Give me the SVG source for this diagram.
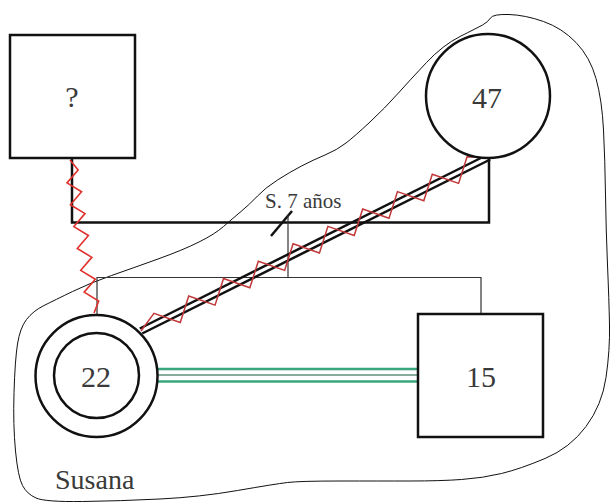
<svg xmlns="http://www.w3.org/2000/svg" width="613" height="502" viewBox="0 0 613 502">
  <style>
    .shape { fill: #ffffff; stroke: #111111; stroke-width: 2.5; }
    .thick { fill: none; stroke: #111111; stroke-width: 2.5; }
    .thin { fill: none; stroke: #333333; stroke-width: 1.2; }
    .conflict { fill: none; stroke: #e0302c; stroke-width: 1.6; }
    .conflict2 { fill: none; stroke: #c23838; stroke-width: 1.5; }
    .close { fill: none; stroke: #3aa57c; stroke-width: 2.6; }
    .close-mid { fill: none; stroke: #5f8f7c; stroke-width: 1.4; }
    text { font-family: 'Liberation Serif', 'Times New Roman', 'DejaVu Serif', serif; fill: #3a3a3a; }
    .age { font-size: 30px; text-anchor: middle; }
  </style>

  <!-- household boundary -->
  <g id="household">
    <path fill="none" stroke="#111111" stroke-width="1" d="M 490.5,18 Q 493,14 509,14.5 Q 525,15 543.5,21.5 Q 562,28 576,42.5 Q 590,57 596,78.5 Q 602,100 603.5,130 Q 605,160 605.5,195 Q 606,230 607.5,265 Q 609,300 609.5,325 Q 610,350 606,377.5 Q 602,405 586,426.5 Q 570,448 545,458.5 Q 520,469 501.5,473.5 Q 483,478 461.5,479.5 Q 440,481 410,481 Q 380,481 340,481 Q 300,481 287.5,482.5 Q 275,484 237.5,490.5 Q 200,497 160,499 Q 120,501 82.5,501.5 Q 45,502 36,498 Q 27,494 22.5,485.5 Q 18,477 15.5,451 Q 13,425 14,392.5 Q 15,360 17.5,344 Q 20,328 26.5,319.5 Q 33,311 44,305.5 Q 55,300 72.5,291.5 Q 90,283 111.5,275.5 Q 133,268 158,259 Q 183,250 199,242 Q 215,234 223.5,226.5 Q 232,219 241,211.5 Q 250,204 257.5,196 Q 265,188 277.5,180 Q 290,172 301.5,166 Q 313,160 325,155 Q 337,150 346,143 Q 355,136 370,122 Q 385,108 397.5,94 Q 410,80 426.5,62.5 Q 443,45 460,36.5 Q 477,28 482.5,25 Q 488,22 490.5,18 Z"/>
    <text x="55" y="489" font-size="28" font-family="'Liberation Serif', serif">Susana</text>
  </g>

  <!-- connectors -->
  <g id="connectors">
    <!-- marriage line with separation mark -->
    <polyline class="thick" points="72,158 72,222.5 489,222.5 489,157"/>
    <line class="thick" x1="271" y1="236" x2="292" y2="211"/>
    <text x="265" y="208" font-size="21" font-family="'Liberation Serif', serif">S. 7 años</text>
    <!-- children line -->
    <polyline class="thin" points="288,215 288,277.5"/>
    <polyline class="thin" points="97,315 97,277.5 481,277.5 481,314"/>
    <!-- conflict ? - 22 -->
    <polyline class="conflict" points="70,160 78.13,169.92 67.01,182.87 81.56,191.78 70.44,204.73 84.99,213.64 73.87,226.59 88.42,235.5 77.29,248.45 91.85,257.36 80.72,270.31 95.28,279.22 84.15,292.17 98.71,301.08 94,313"/>
    <!-- close + conflict 22 - 47 -->
    <line class="thick" x1="139.8" y1="328.5" x2="487.8" y2="154.5"/>
    <line class="thick" x1="142.2" y1="333.5" x2="490.2" y2="159.5"/>
    <polyline class="conflict2" points="141,331 153.93,313.36 180.26,322.54 188.72,295.96 215.06,305.15 223.52,278.57 249.85,287.76 258.31,261.17 284.65,270.36 293.1,243.78 319.44,252.97 327.9,226.38 354.23,235.57 362.69,208.99 389.03,218.17 397.49,191.59 423.82,200.78 432.28,174.19 458.62,183.38 467.07,156.79 489,157"/>
    <!-- fused 22 - 15 -->
    <line class="close" x1="158" y1="369" x2="418" y2="369"/>
    <line class="close-mid" x1="158" y1="375" x2="418" y2="375"/>
    <line class="close" x1="158" y1="381.5" x2="418" y2="381.5"/>
  </g>

  <g id="person-unknown">
    <rect class="shape" x="10" y="35" width="125" height="123"/>
    <text class="age" x="72" y="107" font-size="26" font-family="'Liberation Serif', serif">?</text>
  </g>

  <g id="person-47">
    <circle class="shape" cx="488" cy="96" r="62"/>
    <text class="age" x="487" y="108" font-family="'Liberation Serif', serif">47</text>
  </g>

  <g id="person-22">
    <circle class="shape" cx="96.5" cy="376" r="61"/>
    <circle class="shape" cx="96.5" cy="375.5" r="42.5"/>
    <text class="age" x="96" y="387" font-family="'Liberation Serif', serif">22</text>
  </g>

  <g id="person-15">
    <rect class="shape" x="418" y="314" width="125" height="123"/>
    <text class="age" x="481" y="387" font-family="'Liberation Serif', serif">15</text>
  </g>
</svg>
